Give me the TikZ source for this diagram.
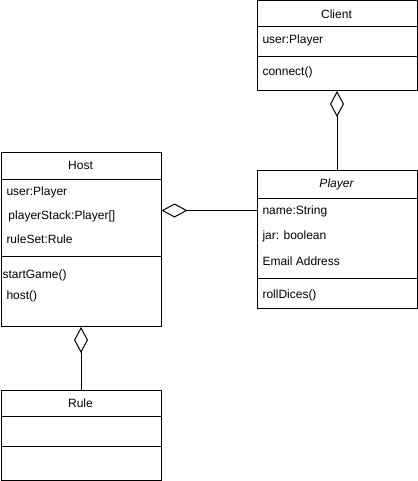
\documentclass[tikz,border=0pt]{standalone}
\usepackage{fontspec}
\setmainfont{Liberation Sans}
\usetikzlibrary{arrows.meta}
\begin{document}
\begin{tikzpicture}[x=1pt,y=-1pt,line width=1pt,
  box/.style={draw,minimum width=160pt,inner sep=0pt,anchor=north west},
  txt/.style={anchor=west,inner sep=0pt,font=\fontsize{12}{14}\selectfont},
  ttl/.style={anchor=center,inner sep=0pt,font=\fontsize{12}{14}\selectfont},
  agg/.style={-{Diamond[open,length=26pt,width=14pt]}}]
\useasboundingbox (0,0) rectangle (417,481);
% Client
\node[box,minimum height=89.5pt] (client) at (256.5,0.5) {};
\node[ttl] (clientT) at (336.5,14) {Client};
\draw (256.5,27) -- (416.5,27);
\node[txt] (client1) at (262,40.5) {user:Player};
\draw (256.5,57) -- (416.5,57);
\node[txt] (client2) at (262,72.5) {connect()};
% Player
\node[box,minimum height=138pt] (player) at (256.5,170) {};
\node[ttl] (playerT) at (336.5,184) {\itshape Player};
\draw (256.5,198) -- (416.5,198);
\node[txt] (player1) at (262,211) {name:String};
\node[txt] (player2) at (262,236.5) {jar: boolean};
\node[txt] (player3) at (262,261.5) {Email Address};
\draw (256.5,278) -- (416.5,278);
\node[txt] (player4) at (262,295) {rollDices()};
% Host
\node[box,minimum height=173.5pt] (host) at (0.5,152.5) {};
\node[ttl] (hostT) at (80.5,165.5) {Host};
\draw (0.5,179) -- (160.5,179);
\node[txt] (host1) at (6,192) {user:Player};
\node[txt] (host2) at (8,216.5) {playerStack:Player[]};
\node[txt] (host3) at (6,239) {ruleSet:Rule};
\draw (0.5,256.5) -- (160.5,256.5);
\node[txt] (host4) at (2,275) {startGame()};
\node[txt] (host5) at (6,296.5) {host()};
% Rule
\node[box,minimum height=90pt] (rule) at (0.5,390) {};
\node[ttl] (ruleT) at (80.5,403) {Rule};
\draw (0.5,416.5) -- (160.5,416.5);
\draw (0.5,446) -- (160.5,446);
% connectors
\draw[agg] (player.north) -- (client.south);
\draw[agg] (player.west |- 0,210.5) -- (host.east |- 0,210.5);
\draw[agg] (rule.north) -- (host.south);
\end{tikzpicture}
\end{document}
